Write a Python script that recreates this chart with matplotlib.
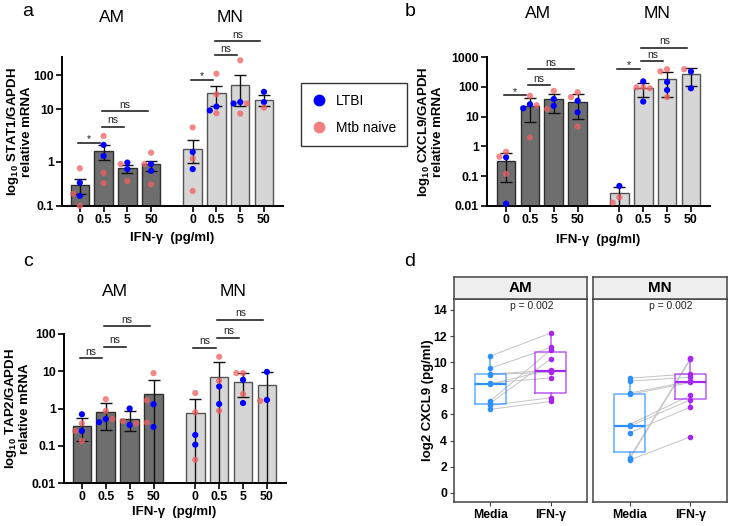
import numpy as np
import matplotlib
matplotlib.use("Agg")
import matplotlib.pyplot as plt
from matplotlib.lines import Line2D
from matplotlib.ticker import NullLocator

plt.rcParams['font.family'] = ['Liberation Sans', 'DejaVu Sans']
plt.rcParams['mathtext.fontset'] = 'custom'
plt.rcParams['mathtext.rm'] = 'Liberation Sans'
plt.rcParams['mathtext.bf'] = 'Liberation Sans:bold'

# ---- data ----
doses = ['0', '0.5', '5', '50']

# a: STAT1 (AM 0,0.5,5,50 then MN 0,0.5,5,50)
stat1_mean = [0.30, 1.6, 0.72, 0.89, 1.76, 29, 52, 18.3]
stat1_lo = [0.19, 1.09, 0.57, 0.63, 0.93, 12.4, 12, 12.4]
stat1_hi = [0.41, 2.1, 0.86, 1.06, 2.6, 46, 100, 26]
stat1_ltbi = [[0.34, 0.17], [2.1, 1.3], [0.97, 0.69], [0.90, 0.63],
              [1.54, 0.69], [11.8, 9.4], [16, 14.5], [32, 16]]
stat1_naive = [[0.72, 0.19, 0.10], [3.1, 0.57, 0.33], [0.90, 0.37], [1.5, 0.90, 0.31],
               [4.5, 1.16, 0.22], [109, 27, 8.3], [270, 14.5, 8.2], [11]]

# b: CXCL9
cxcl9_mean = [0.32, 23, 38, 32, 0.027, 89, 183, 263]
cxcl9_lo = [0.066, 6.5, 13.5, 8.3, 0.009, 47, 45, 109]
cxcl9_hi = [0.59, 41, 58, 56, 0.045, 131, 320, 417]
cxcl9_ltbi = [[0.43, 0.012], [26, 19], [39, 23], [34, 14],
              [0.047], [152, 32], [145, 78], [325, 89]]
cxcl9_naive = [[0.66, 0.45, 0.12], [50, 24, 2.0], [73, 18], [66, 45, 4.6],
               [0.0195, 0.013], [96, 96, 89], [390, 330, 45], [390]]

# c: TAP2
tap2_mean = [0.33, 0.79, 0.52, 2.45, 0.74, 7.2, 5.3, 4.2]
tap2_lo = [0.134, 0.26, 0.25, 0.005, 0.005, 0.005, 2.0, 0.005]
tap2_hi = [0.55, 1.38, 0.87, 5.9, 1.8, 17.3, 8.9, 9.4]
tap2_ltbi = [[0.70, 0.25], [0.52, 0.43], [1.0, 0.36], [1.3, 0.32],
             [0.195, 0.107], [3.9, 1.32], [5.9, 1.4], [9.6, 1.7]]
tap2_naive = [[0.40, 0.25, 0.134], [1.78, 0.86, 0.52], [0.46, 0.40], [8.9, 1.65, 0.42],
              [2.6, 0.79, 0.042], [24.5, 5.6, 0.87], [8.9, 8.9, 2.45], [1.6]]

# significance brackets: (from bar, to bar, height, label)
stat1_sig = [(0, 1, 2.3, '*'), (1, 2, 4.6, 'ns'), (1, 3, 9.2, 'ns'),
             (4, 5, 71, '*'), (5, 6, 390, 'ns'), (5, 7, 1000, 'ns')]
cxcl9_sig = [(0, 1, 52, '*'), (1, 2, 115, 'ns'), (1, 3, 390, 'ns'),
             (4, 5, 390, '*'), (5, 6, 740, 'ns'), (5, 7, 2040, 'ns')]
tap2_sig = [(0, 1, 22, 'ns'), (1, 2, 46, 'ns'), (1, 3, 160, 'ns'),
            (4, 5, 43, 'ns'), (5, 6, 79, 'ns'), (5, 7, 240, 'ns')]

# d: CXCL9 protein, paired media / IFN-g
am_media = [10.48, 9.54, 9.11, 9.06, 8.42, 8.32, 7.03, 6.85, 6.70, 6.39]
am_ifn = [12.23, 11.13, 9.36, 9.23, 8.80, 9.44, 10.94, 10.25, 7.28, 7.00]
mn_media = [8.78, 8.55, 7.64, 7.53, 5.23, 5.10, 4.59, 2.69, 2.56, 2.51]
mn_ifn = [9.11, 8.85, 8.55, 8.45, 7.46, 7.13, 6.57, 10.30, 10.22, 4.29]
# box stats: q1, median, q3, whisker low, whisker high
am_media_box = [6.82, 8.35, 9.11, 6.39, 10.48]
am_ifn_box = [7.66, 9.36, 10.75, 7.00, 12.23]
mn_media_box = [3.15, 5.10, 7.53, 2.51, 8.78]
mn_ifn_box = [7.20, 8.52, 9.11, 6.57, 10.30]
p_values = ['p = 0.002', 'p = 0.002']

BLUE = '#0000FF'
PINK = '#F06060'
MEDIA_C = '#2E90FF'
IFN_C = '#A626F0'

W, H = 733, 526
fig = plt.figure(figsize=(W / 100, H / 100), dpi=100)


def add_ax(l, r, t, b):
    return fig.add_axes([l / W, 1 - b / H, (r - l) / W, (b - t) / H])


xpos = np.array([0, 1, 2, 3, 4.75, 5.75, 6.75, 7.75])

# panel a has an uneven log axis in the original
a_dec = [-1, 0, 1, 2, 3]
a_pos = [0, 44, 97, 131, 165]


def a_fwd(v):
    v = np.asarray(v, float)
    with np.errstate(divide='ignore', invalid='ignore'):
        lv = np.log10(np.where(v > 0, v, 1e-9))
    out = np.interp(lv, a_dec, a_pos)
    out = np.where(lv < -1, (lv + 1) * 44, out)
    out = np.where(lv > 3, 165 + (lv - 3) * 34, out)
    return out


def a_inv(p):
    p = np.asarray(p, float)
    lv = np.interp(p, a_pos, a_dec)
    lv = np.where(p < 0, -1 + p / 44, lv)
    lv = np.where(p > 165, 3 + (p - 165) / 34, lv)
    return 10 ** lv


def swarm(ax, xc, pts, step=0.28, dmin=5.5):
    # put a dot in the middle, or left / right of it if that spot is taken
    placed = []
    for v, col, a in pts:
        best = None
        for k in [0, -1, 1]:
            x = xc + k * step
            px, py = ax.transData.transform((x, v))
            d = min([np.hypot(px - qx, py - qy) for qx, qy in placed] + [99])
            if best is None or d > best[0] + 0.01:
                best = (d, x, px, py)
            if d >= dmin:
                best = (d, x, px, py)
                break
        _, x, px, py = best
        placed.append((px, py))
        ax.scatter([x], [v], s=20, color=col, alpha=a, edgecolors='none',
                   zorder=4, clip_on=False)


def bar_panel(ax, mean, lo, hi, ltbi, naive, sig, ticks, ticklabels):
    mean = np.array(mean)
    colors = ['#6E6E6E'] * 4 + ['#D6D6D6'] * 4
    edges = ['#2E2E2E'] * 4 + ['#555555'] * 4
    ax.bar(xpos, mean - 1e-4, bottom=1e-4, width=0.78, color=colors,
           edgecolor=edges, linewidth=1.0, zorder=1)
    yerr = [mean - np.array(lo), np.array(hi) - mean]
    ax.errorbar(xpos, mean, yerr=yerr, fmt='none', ecolor='#111111',
                elinewidth=1, capsize=4.5, capthick=1, zorder=3)
    for i in range(8):
        pts = [(v, BLUE, 1.0) for v in ltbi[i]] + [(v, PINK, 0.75) for v in naive[i]]
        swarm(ax, xpos[i], pts)
    for i, j, y, lab in sig:
        x1, x2 = xpos[i] - 0.08, xpos[j] - 0.15
        ax.plot([x1, x2], [y, y], color='#111111', lw=1.1, clip_on=False)
        ax.annotate(lab, ((x1 + x2) / 2, y), xytext=(0, 1 if lab == 'ns' else -1),
                    textcoords='offset points', ha='center', va='bottom',
                    fontsize=7.5, color='#222222', annotation_clip=False)
    for s in ['top', 'right']:
        ax.spines[s].set_visible(False)
    for s in ['left', 'bottom']:
        ax.spines[s].set_linewidth(1.4)
    ax.set_xticks(xpos)
    ax.set_xticklabels(doses * 2, fontweight='bold')
    ax.set_yticks(ticks)
    ax.set_yticklabels(ticklabels, fontweight='bold')
    ax.yaxis.set_minor_locator(NullLocator())
    ax.tick_params(axis='both', width=1.2, length=4, labelsize=8.8, pad=2)


# ---- a ----
ax_a = add_ax(62, 283, 57, 206)
ax_a.set_yscale('function', functions=(a_fwd, a_inv))
ax_a.set_xlim(-0.75, 8.55)
ax_a.set_ylim(0.1, float(a_inv(149)))
bar_panel(ax_a, stat1_mean, stat1_lo, stat1_hi, stat1_ltbi, stat1_naive, stat1_sig,
          [0.1, 1, 10, 100], ['0.1', '1', '10', '100'])
ax_a.set_ylabel('$\\mathbf{log_{10}}$ STAT1/GAPDH\nrelative mRNA', fontweight='bold',
                fontsize=9.5, linespacing=1.0)
ax_a.yaxis.set_label_coords(-0.131, 0.5)

# ---- b ----
ax_b = add_ax(487, 710, 57, 206)
ax_b.set_yscale('log')
ax_b.set_xlim(-0.8, 8.55)
ax_b.set_ylim(0.01, 1000)
bar_panel(ax_b, cxcl9_mean, cxcl9_lo, cxcl9_hi, cxcl9_ltbi, cxcl9_naive, cxcl9_sig,
          [0.01, 0.1, 1, 10, 100, 1000], ['0.01', '0.1', '1', '10', '100', '1000'])
ax_b.set_ylabel('$\\mathbf{log_{10}}$ CXCL9/GAPDH\nrelative mRNA', fontweight='bold',
                fontsize=9.5, linespacing=1.0)
ax_b.yaxis.set_label_coords(-0.195, 0.5)

# ---- c ----
ax_c = add_ax(64, 286, 334, 483)
ax_c.set_yscale('log')
ax_c.set_xlim(-0.75, 8.55)
ax_c.set_ylim(0.01, 100)
bar_panel(ax_c, tap2_mean, tap2_lo, tap2_hi, tap2_ltbi, tap2_naive, tap2_sig,
          [0.01, 0.1, 1, 10, 100], ['0.01', '0.1', '1', '10', '100'])
ax_c.set_ylabel('$\\mathbf{log_{10}}$ TAP2/GAPDH\nrelative mRNA', fontweight='bold',
                fontsize=9.5, linespacing=1.0)
ax_c.yaxis.set_label_coords(-0.149, 0.5)

# ---- d ----
def box_panel(ax, media, ifn, boxes, ptxt, first):
    for m, f in zip(media, ifn):
        ax.plot([1, 2], [m, f], color='#C4C4C4', lw=0.7, zorder=1)
    for pos, b, col in zip([1, 2], boxes, [MEDIA_C, IFN_C]):
        st = dict(q1=b[0], med=b[1], q3=b[2], whislo=b[3], whishi=b[4], fliers=[])
        ax.bxp([st], positions=[pos], widths=0.52, showcaps=False, showfliers=False,
               boxprops=dict(color=col, lw=1.1, alpha=0.75),
               whiskerprops=dict(color=col, lw=1.1, alpha=0.75),
               medianprops=dict(color=col, lw=1.6), zorder=2)
    ax.scatter([1] * len(media), media, s=9, color=MEDIA_C, zorder=3)
    ax.scatter([2] * len(ifn), ifn, s=9, color=IFN_C, zorder=3)
    ax.text(1.68, 14.3, ptxt, ha='center', va='center', fontsize=7.5, color='#222222')
    ax.set_xlim(0.4, 2.6)
    ax.set_ylim(-0.7, 14.84)
    ax.set_xticks([1, 2])
    ax.set_xticklabels(['Media', 'IFN-γ'], fontweight='bold')
    ax.set_yticks(range(0, 15, 2))
    if first:
        ax.set_yticklabels([str(v) for v in range(0, 15, 2)], fontweight='bold')
    else:
        ax.tick_params(axis='y', left=False, labelleft=False)
    for s in ax.spines.values():
        s.set_color('#444444')
        s.set_linewidth(1.1)
    ax.tick_params(axis='both', length=3, width=0.8, color='#444444', labelsize=8.8,
                   pad=2, labelcolor='black')


for (l, r), name, media, ifn, boxes, ptxt, first in [
        ((454, 587), 'AM', am_media, am_ifn, [am_media_box, am_ifn_box], p_values[0], True),
        ((593, 727), 'MN', mn_media, mn_ifn, [mn_media_box, mn_ifn_box], p_values[1], False)]:
    ax = add_ax(l, r, 299, 502)
    box_panel(ax, media, ifn, boxes, ptxt, first)
    if first:
        ax.set_ylabel('log2 CXCL9 (pg/ml)', fontweight='bold', fontsize=9.5)
        ax.yaxis.set_label_coords(-0.15, 0.5)
    sax = add_ax(l, r, 277, 299)
    sax.set_facecolor('#EFEFEF')
    sax.set_xticks([])
    sax.set_yticks([])
    for s in sax.spines.values():
        s.set_color('#444444')
        s.set_linewidth(1.1)
    sax.text(0.5, 0.5, name, ha='center', va='center', fontsize=11, fontweight='bold',
             transform=sax.transAxes)

# ---- figure texts ----
def ftext(x, y, s, **kw):
    fig.text(x / W, 1 - y / H, s, ha='center', va='center', **kw)


for x, y, s in [(112, 17, 'AM'), (230, 17, 'MN'), (538, 14, 'AM'), (657, 14, 'MN'),
                (115, 292, 'AM'), (233, 292, 'MN')]:
    ftext(x, y, s, fontsize=12.5)
for x, y, s in [(28, 12, 'a'), (410, 12, 'b'), (28, 262, 'c'), (410, 262, 'd')]:
    ftext(x, y, s, fontsize=14)
for x, y in [(172, 238), (598, 240), (174, 512)]:
    ftext(x, y, 'IFN-γ  (pg/ml)', fontsize=9.5, fontweight='bold')

handles = [Line2D([], [], marker='o', ls='', color=BLUE, markersize=7.5, label='LTBI'),
           Line2D([], [], marker='o', ls='', color='#F28080', markersize=7.5, label='Mtb naive')]
leg = fig.legend(handles=handles, loc='upper left', bbox_to_anchor=(301 / W, 1 - 83 / H),
                 frameon=True, fancybox=False, edgecolor='black', fontsize=10,
                 labelspacing=0.95, handletextpad=0.7, borderpad=0.8, handlelength=1.0,
                 borderaxespad=0)
leg.get_frame().set_linewidth(1.0)

fig.savefig('out.png', dpi=100)
